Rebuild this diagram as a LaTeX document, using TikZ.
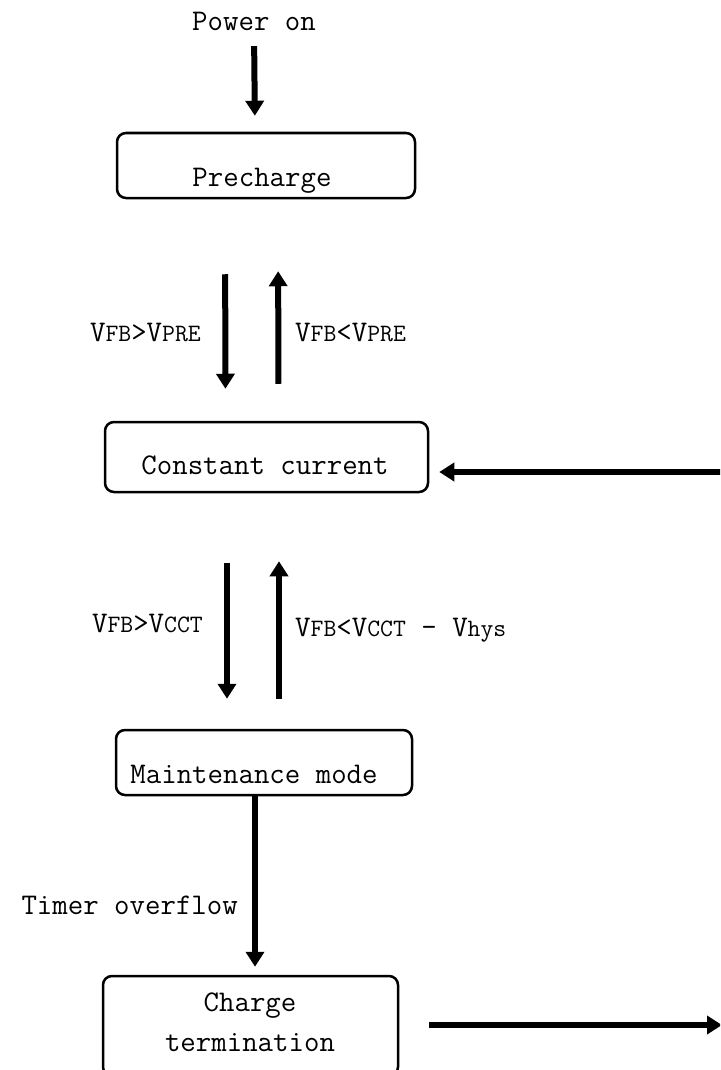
\documentclass[tikz,border=0pt]{standalone}
\usetikzlibrary{arrows.meta}
\newcommand\smtxt[1]{{\fontsize{25}{30}\selectfont #1}}
\begin{document}
\begin{tikzpicture}[x=1pt,y=-1pt,
  box/.style={draw, line width=2.5pt, rounded corners=9pt, inner sep=0pt},
  txt/.style={font=\fontsize{30}{36}\selectfont\ttfamily, inner sep=0pt, text height=18pt, text depth=0pt, align=center},
  arr/.style={line width=6pt, -{Triangle[length=15pt,width=18pt]}}]
\useasboundingbox (0,0) rectangle (720,1070);
\clip (0,0) rectangle (720,1070);
% boxes
\node[box, minimum width=298pt, minimum height=65pt] (pre) at (266,165.5) {};
\node[box, minimum width=323pt, minimum height=70pt] (cc) at (266.5,457) {};
\node[box, minimum width=296pt, minimum height=65pt] (mm) at (264,762.5) {};
\node[box, minimum width=295pt, minimum height=100pt] (ct) at (250.5,1026) {};
% texts
\node[txt] (pwr) at (254,22) {Power on};
\node[txt] (pretxt) at (262,177) {Precharge};
\node[txt] (cctxt) at (265,465) {Constant current};
\node[txt] (mmtxt) at (254,774) {Maintenance mode};
\node[txt] (cttxt1) at (250,1002) {Charge};
\node[txt] (cttxt2) at (250,1042) {termination};
% labels
\node[txt, anchor=east] (l1) at (201,332) {V\smtxt{FB}>V\smtxt{PRE}};
\node[txt, anchor=west] (l2) at (295,332) {V\smtxt{FB}<V\smtxt{PRE}};
\node[txt, anchor=east] (l3) at (203,623) {V\smtxt{FB}>V\smtxt{CCT}};
\node[txt, anchor=west] (l4) at (295,627) {V\smtxt{FB}<V\smtxt{CCT} - V\smtxt{hys}};
\node[txt, anchor=east] (l5) at (238,905) {Timer overflow};
% free ends
\coordinate (inR) at (721,472);
\coordinate (outR) at (722,1025);
% arrows
\draw[arr, shorten <=15pt, shorten >=16pt] ([xshift=-12pt]pwr.south -| pre.north) -- ([xshift=-11pt]pre.north);
\draw[arr, shorten <=75pt, shorten >=32pt] ([xshift=-41pt]pre.south) -- ([xshift=-41pt]cc.north);
\draw[arr, shorten <=37pt, shorten >=72pt] ([xshift=12pt]cc.north) -- ([xshift=12pt]pre.south);
\draw[arr, shorten <=70pt, shorten >=30pt] ([xshift=-39.5pt]cc.south) -- ([xshift=-39.5pt]cc.south |- mm.north);
\draw[arr, shorten <=30pt, shorten >=68pt] ([xshift=12.5pt]cc.south |- mm.north) -- ([xshift=12.5pt]cc.south);
\draw[arr, shorten >=8pt] ([xshift=-9pt]mm.south) -- ([xshift=-9pt]mm.south |- ct.north);
\draw[arr, shorten >=10pt] (inR) -- (inR -| cc.east);
\draw[arr, shorten <=30pt] (outR -| ct.east) -- (outR);
\end{tikzpicture}
\end{document}
